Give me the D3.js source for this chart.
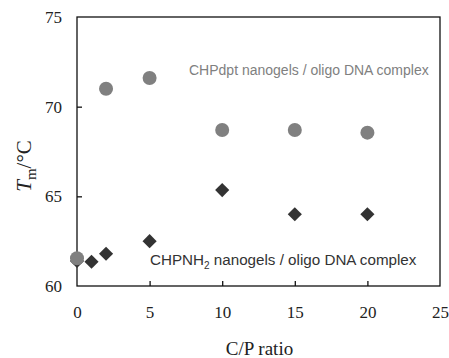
<!DOCTYPE html>
<html>
<head>
<meta charset="utf-8">
<script src="https://cdn.jsdelivr.net/npm/d3@7"></script>
<style>
body { margin: 0; background: #fff; }
svg text { font-family: "Liberation Serif", "Times New Roman", serif; }
</style>
</head>
<body>
<div id="main"></div>
<script>
// values
var xTicks = [0, 5, 10, 15, 20, 25];
var yTicks = [60, 65, 70, 75];
var dptRatio = [0, 2, 5, 10, 15, 20];
var dptTm = [61.55, 71.0, 71.6, 68.7, 68.7, 68.55];
var nh2Ratio = [0, 1, 2, 5, 10, 15, 20];
var nh2Tm = [61.4, 61.35, 61.8, 62.5, 65.35, 64.0, 64.0];

var width = 449, height = 358;
var margin = {top: 17, right: 9, bottom: 72, left: 77};

var svg = d3.select("#main").append("svg")
    .attr("width", width)
    .attr("height", height);

var x = d3.scaleLinear().domain([0, 25]).range([margin.left, width - margin.right]);
var y = d3.scaleLinear().domain([60, 75]).range([height - margin.bottom, margin.top]);

// frame
svg.append("rect")
    .attr("x", x(0)).attr("y", y(75))
    .attr("width", x(25) - x(0)).attr("height", y(60) - y(75))
    .attr("fill", "none").attr("stroke", "#111").attr("stroke-width", 1.3);

var xAxis = svg.append("g")
    .attr("transform", "translate(0," + y(60) + ")")
    .call(d3.axisBottom(x).tickValues(xTicks).tickSizeInner(-5).tickSizeOuter(0).tickPadding(20));
var yAxis = svg.append("g")
    .attr("transform", "translate(" + x(0) + ",0)")
    .call(d3.axisLeft(y).tickValues(yTicks).tickSizeInner(-5).tickSizeOuter(0).tickPadding(15));

[xAxis, yAxis].forEach(function(a) {
  a.select(".domain").remove();
  a.selectAll("line").attr("stroke", "#111").attr("stroke-width", 1.3);
  a.selectAll("text").attr("fill", "#222").style("font-size", "17px")
    .style("font-family", "Liberation Serif, serif");
});
// end ticks sit on the frame
xAxis.selectAll(".tick").filter(function(d) { return d == 0 || d == 25; }).select("line").remove();
yAxis.selectAll(".tick").filter(function(d) { return d == 60 || d == 75; }).select("line").remove();

// axis titles
svg.append("text")
    .attr("x", (x(0) + x(25)) / 2 + 1).attr("y", 355)
    .attr("text-anchor", "middle")
    .attr("fill", "#222").style("font-size", "19px")
    .text("C/P ratio");

var yl = svg.append("text")
    .attr("transform", "translate(31,166) rotate(-90)")
    .attr("text-anchor", "middle")
    .attr("fill", "#222").style("font-size", "21px");
yl.append("tspan").style("font-style", "italic").text("T");
yl.append("tspan").attr("dy", 5).style("font-size", "15px").text("m");
yl.append("tspan").attr("dy", -5).text("/°C");

// CHPNH2 series (diamonds) drawn first
var diamond = d3.symbol().type(d3.symbolSquare).size(100);
svg.append("g").selectAll("path")
    .data(d3.zip(nh2Ratio, nh2Tm))
    .enter().append("path")
    .attr("d", diamond)
    .attr("transform", function(d) { return "translate(" + x(d[0]) + "," + y(d[1]) + ") rotate(45)"; })
    .attr("fill", "#333");

// CHPdpt series (circles)
svg.append("g").selectAll("circle")
    .data(d3.zip(dptRatio, dptTm))
    .enter().append("circle")
    .attr("cx", function(d) { return x(d[0]); })
    .attr("cy", function(d) { return y(d[1]); })
    .attr("r", 7)
    .attr("fill", "#808080");

// series labels
svg.append("text")
    .attr("x", 189).attr("y", 75)
    .attr("fill", "#808080")
    .style("font-family", "Liberation Sans, Arial, sans-serif").style("font-size", "14px")
    .text("CHPdpt nanogels / oligo DNA complex");

var l2 = svg.append("text")
    .attr("x", 150).attr("y", 265)
    .attr("fill", "#333")
    .style("font-family", "Liberation Sans, Arial, sans-serif").style("font-size", "15.2px");
l2.append("tspan").text("CHPNH");
l2.append("tspan").attr("dy", 4).style("font-size", "10px").text("2");
l2.append("tspan").attr("dy", -4).text(" nanogels / oligo DNA complex");
</script>
</body>
</html>
